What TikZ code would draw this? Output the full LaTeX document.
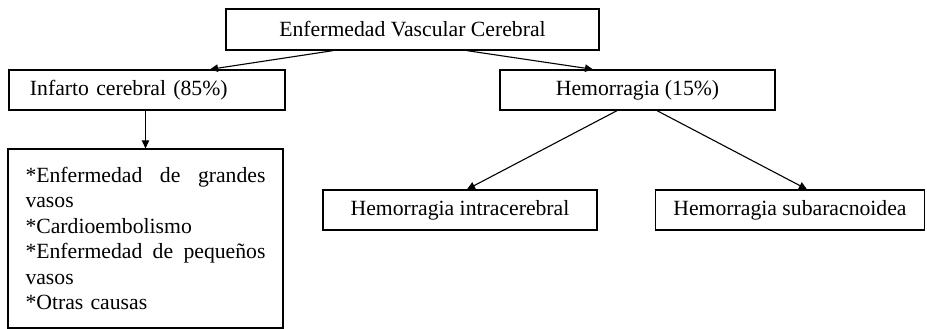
\documentclass[tikz,border=0pt]{standalone}
\usepackage{fontspec}
\setmainfont{Liberation Serif}
\usetikzlibrary{arrows.meta}
\begin{document}
\begin{tikzpicture}[x=1pt,y=-1pt,
  txt/.style={font=\fontsize{21.7}{25.5}\selectfont},
  boxnode/.style={draw, line width=1.3pt, inner sep=0pt, txt},
  conn/.style={line width=1.1pt, -{Triangle[length=8pt,width=7.5pt]}}]
\useasboundingbox (0,0) rectangle (927,329);
\node[boxnode, minimum width=373pt, minimum height=41pt] (top) at (412.5,29.5) {Enfermedad Vascular Cerebral};
\node[boxnode, minimum width=276pt, minimum height=40pt, text width=234pt, align=left, inner xsep=21pt] (inf) at (147,90) {Infarto cerebral (85\%)};
\node[boxnode, minimum width=275pt, minimum height=40pt] (hem) at (637.5,90) {Hemorragia (15\%)};
\node[boxnode, minimum width=274pt, minimum height=40pt] (intra) at (460,210) {Hemorragia intracerebral};
\node[boxnode, minimum width=269pt, minimum height=40pt] (sub) at (790,210) {Hemorragia subaracnoidea};
\node[boxnode, minimum width=275pt, minimum height=179pt, text width=240pt, align=left, inner xsep=17.5pt] (list) at (145.5,238.5)
  {\hbox to 240pt{*Enfermedad\hfill de\hfill grandes}\newline vasos\newline *Cardioembolismo\newline \hbox to 240pt{*Enfermedad\hfill de\hfill pequeños}\newline vasos\newline *Otras causas};
\draw[conn] ([xshift=-79.5pt]top.south) -- ([xshift=63pt]inf.north);
\draw[conn] ([xshift=54.5pt]top.south) -- ([xshift=-44.5pt]hem.north);
\draw[conn] ([xshift=-20.5pt]hem.south) -- ([xshift=7pt]intra.north);
\draw[conn] ([xshift=19.5pt]hem.south) -- ([xshift=17pt]sub.north);
\draw[conn] (list.north |- inf.south) -- (list.north);
\end{tikzpicture}
\end{document}
